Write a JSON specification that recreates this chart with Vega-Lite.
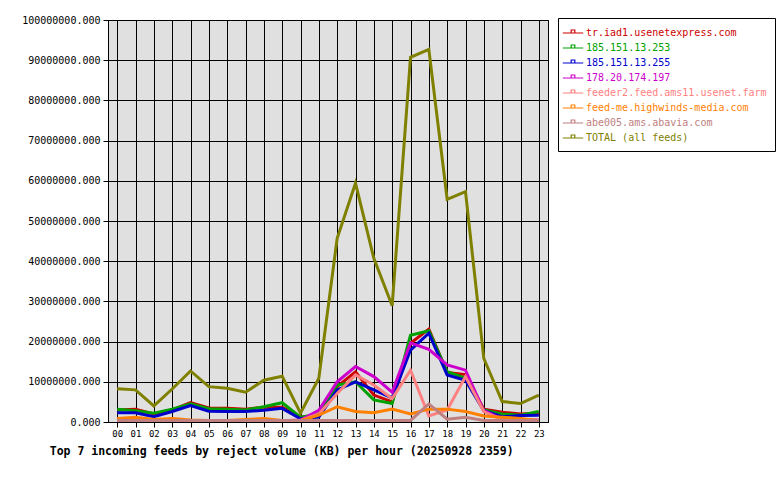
{
  "$schema": "https://vega.github.io/schema/vega-lite/v6.json",
  "width": 440,
  "height": 402,
  "autosize": {"type": "none"},
  "padding": {"left": 108, "top": 20, "right": 232, "bottom": 58},
  "background": "white",
  "config": {
    "view": {"fill": "#e0e0e0", "stroke": "black", "strokeWidth": 1},
    "font": "DejaVu Sans Mono"
  },
  "title": {
    "text": "Top 7 incoming feeds by reject volume (KB) per hour (20250928 2359)",
    "orient": "bottom",
    "anchor": "start",
    "font": "DejaVu Sans Mono",
    "fontWeight": "bold",
    "fontSize": 11.5,
    "color": "black",
    "dx": 28,
    "offset": 8
  },
  "datasets": {
    "feeds": [
      {"feed": "tr.iad1.usenetexpress.com", "hour": 0, "kb": 3000000},
      {"feed": "tr.iad1.usenetexpress.com", "hour": 1, "kb": 3200000},
      {"feed": "tr.iad1.usenetexpress.com", "hour": 2, "kb": 2000000},
      {"feed": "tr.iad1.usenetexpress.com", "hour": 3, "kb": 3000000},
      {"feed": "tr.iad1.usenetexpress.com", "hour": 4, "kb": 4800000},
      {"feed": "tr.iad1.usenetexpress.com", "hour": 5, "kb": 3500000},
      {"feed": "tr.iad1.usenetexpress.com", "hour": 6, "kb": 3400000},
      {"feed": "tr.iad1.usenetexpress.com", "hour": 7, "kb": 3200000},
      {"feed": "tr.iad1.usenetexpress.com", "hour": 8, "kb": 3700000},
      {"feed": "tr.iad1.usenetexpress.com", "hour": 9, "kb": 3700000},
      {"feed": "tr.iad1.usenetexpress.com", "hour": 10, "kb": 1200000},
      {"feed": "tr.iad1.usenetexpress.com", "hour": 11, "kb": 1700000},
      {"feed": "tr.iad1.usenetexpress.com", "hour": 12, "kb": 8800000},
      {"feed": "tr.iad1.usenetexpress.com", "hour": 13, "kb": 12500000},
      {"feed": "tr.iad1.usenetexpress.com", "hour": 14, "kb": 6700000},
      {"feed": "tr.iad1.usenetexpress.com", "hour": 15, "kb": 5000000},
      {"feed": "tr.iad1.usenetexpress.com", "hour": 16, "kb": 19600000},
      {"feed": "tr.iad1.usenetexpress.com", "hour": 17, "kb": 23100000},
      {"feed": "tr.iad1.usenetexpress.com", "hour": 18, "kb": 12300000},
      {"feed": "tr.iad1.usenetexpress.com", "hour": 19, "kb": 11800000},
      {"feed": "tr.iad1.usenetexpress.com", "hour": 20, "kb": 3200000},
      {"feed": "tr.iad1.usenetexpress.com", "hour": 21, "kb": 2400000},
      {"feed": "tr.iad1.usenetexpress.com", "hour": 22, "kb": 2000000},
      {"feed": "tr.iad1.usenetexpress.com", "hour": 23, "kb": 2200000},

      {"feed": "185.151.13.253", "hour": 0, "kb": 3200000},
      {"feed": "185.151.13.253", "hour": 1, "kb": 2800000},
      {"feed": "185.151.13.253", "hour": 2, "kb": 2200000},
      {"feed": "185.151.13.253", "hour": 3, "kb": 3200000},
      {"feed": "185.151.13.253", "hour": 4, "kb": 4500000},
      {"feed": "185.151.13.253", "hour": 5, "kb": 3300000},
      {"feed": "185.151.13.253", "hour": 6, "kb": 3200000},
      {"feed": "185.151.13.253", "hour": 7, "kb": 3000000},
      {"feed": "185.151.13.253", "hour": 8, "kb": 3800000},
      {"feed": "185.151.13.253", "hour": 9, "kb": 4800000},
      {"feed": "185.151.13.253", "hour": 10, "kb": 1200000},
      {"feed": "185.151.13.253", "hour": 11, "kb": 2000000},
      {"feed": "185.151.13.253", "hour": 12, "kb": 9200000},
      {"feed": "185.151.13.253", "hour": 13, "kb": 10000000},
      {"feed": "185.151.13.253", "hour": 14, "kb": 5500000},
      {"feed": "185.151.13.253", "hour": 15, "kb": 4600000},
      {"feed": "185.151.13.253", "hour": 16, "kb": 21600000},
      {"feed": "185.151.13.253", "hour": 17, "kb": 22700000},
      {"feed": "185.151.13.253", "hour": 18, "kb": 12500000},
      {"feed": "185.151.13.253", "hour": 19, "kb": 10900000},
      {"feed": "185.151.13.253", "hour": 20, "kb": 3000000},
      {"feed": "185.151.13.253", "hour": 21, "kb": 2000000},
      {"feed": "185.151.13.253", "hour": 22, "kb": 1700000},
      {"feed": "185.151.13.253", "hour": 23, "kb": 2600000},

      {"feed": "185.151.13.255", "hour": 0, "kb": 2300000},
      {"feed": "185.151.13.255", "hour": 1, "kb": 2300000},
      {"feed": "185.151.13.255", "hour": 2, "kb": 1300000},
      {"feed": "185.151.13.255", "hour": 3, "kb": 2600000},
      {"feed": "185.151.13.255", "hour": 4, "kb": 4100000},
      {"feed": "185.151.13.255", "hour": 5, "kb": 2700000},
      {"feed": "185.151.13.255", "hour": 6, "kb": 2600000},
      {"feed": "185.151.13.255", "hour": 7, "kb": 2600000},
      {"feed": "185.151.13.255", "hour": 8, "kb": 2900000},
      {"feed": "185.151.13.255", "hour": 9, "kb": 3400000},
      {"feed": "185.151.13.255", "hour": 10, "kb": 800000},
      {"feed": "185.151.13.255", "hour": 11, "kb": 1200000},
      {"feed": "185.151.13.255", "hour": 12, "kb": 8000000},
      {"feed": "185.151.13.255", "hour": 13, "kb": 10000000},
      {"feed": "185.151.13.255", "hour": 14, "kb": 8000000},
      {"feed": "185.151.13.255", "hour": 15, "kb": 6000000},
      {"feed": "185.151.13.255", "hour": 16, "kb": 17900000},
      {"feed": "185.151.13.255", "hour": 17, "kb": 22100000},
      {"feed": "185.151.13.255", "hour": 18, "kb": 11700000},
      {"feed": "185.151.13.255", "hour": 19, "kb": 10400000},
      {"feed": "185.151.13.255", "hour": 20, "kb": 2800000},
      {"feed": "185.151.13.255", "hour": 21, "kb": 1300000},
      {"feed": "185.151.13.255", "hour": 22, "kb": 1600000},
      {"feed": "185.151.13.255", "hour": 23, "kb": 1700000},

      {"feed": "178.20.174.197", "hour": 0, "kb": 300000},
      {"feed": "178.20.174.197", "hour": 1, "kb": 300000},
      {"feed": "178.20.174.197", "hour": 2, "kb": 300000},
      {"feed": "178.20.174.197", "hour": 3, "kb": 300000},
      {"feed": "178.20.174.197", "hour": 4, "kb": 300000},
      {"feed": "178.20.174.197", "hour": 5, "kb": 300000},
      {"feed": "178.20.174.197", "hour": 6, "kb": 300000},
      {"feed": "178.20.174.197", "hour": 7, "kb": 300000},
      {"feed": "178.20.174.197", "hour": 8, "kb": 300000},
      {"feed": "178.20.174.197", "hour": 9, "kb": 300000},
      {"feed": "178.20.174.197", "hour": 10, "kb": 500000},
      {"feed": "178.20.174.197", "hour": 11, "kb": 2900000},
      {"feed": "178.20.174.197", "hour": 12, "kb": 10000000},
      {"feed": "178.20.174.197", "hour": 13, "kb": 13800000},
      {"feed": "178.20.174.197", "hour": 14, "kb": 11300000},
      {"feed": "178.20.174.197", "hour": 15, "kb": 7400000},
      {"feed": "178.20.174.197", "hour": 16, "kb": 19700000},
      {"feed": "178.20.174.197", "hour": 17, "kb": 18100000},
      {"feed": "178.20.174.197", "hour": 18, "kb": 14200000},
      {"feed": "178.20.174.197", "hour": 19, "kb": 12900000},
      {"feed": "178.20.174.197", "hour": 20, "kb": 2800000},
      {"feed": "178.20.174.197", "hour": 21, "kb": 800000},
      {"feed": "178.20.174.197", "hour": 22, "kb": 500000},
      {"feed": "178.20.174.197", "hour": 23, "kb": 500000},

      {"feed": "feeder2.feed.ams11.usenet.farm", "hour": 0, "kb": 300000},
      {"feed": "feeder2.feed.ams11.usenet.farm", "hour": 1, "kb": 300000},
      {"feed": "feeder2.feed.ams11.usenet.farm", "hour": 2, "kb": 300000},
      {"feed": "feeder2.feed.ams11.usenet.farm", "hour": 3, "kb": 300000},
      {"feed": "feeder2.feed.ams11.usenet.farm", "hour": 4, "kb": 300000},
      {"feed": "feeder2.feed.ams11.usenet.farm", "hour": 5, "kb": 300000},
      {"feed": "feeder2.feed.ams11.usenet.farm", "hour": 6, "kb": 300000},
      {"feed": "feeder2.feed.ams11.usenet.farm", "hour": 7, "kb": 300000},
      {"feed": "feeder2.feed.ams11.usenet.farm", "hour": 8, "kb": 300000},
      {"feed": "feeder2.feed.ams11.usenet.farm", "hour": 9, "kb": 300000},
      {"feed": "feeder2.feed.ams11.usenet.farm", "hour": 10, "kb": 400000},
      {"feed": "feeder2.feed.ams11.usenet.farm", "hour": 11, "kb": 2000000},
      {"feed": "feeder2.feed.ams11.usenet.farm", "hour": 12, "kb": 7100000},
      {"feed": "feeder2.feed.ams11.usenet.farm", "hour": 13, "kb": 11700000},
      {"feed": "feeder2.feed.ams11.usenet.farm", "hour": 14, "kb": 9200000},
      {"feed": "feeder2.feed.ams11.usenet.farm", "hour": 15, "kb": 5800000},
      {"feed": "feeder2.feed.ams11.usenet.farm", "hour": 16, "kb": 12900000},
      {"feed": "feeder2.feed.ams11.usenet.farm", "hour": 17, "kb": 1500000},
      {"feed": "feeder2.feed.ams11.usenet.farm", "hour": 18, "kb": 3000000},
      {"feed": "feeder2.feed.ams11.usenet.farm", "hour": 19, "kb": 11300000},
      {"feed": "feeder2.feed.ams11.usenet.farm", "hour": 20, "kb": 2600000},
      {"feed": "feeder2.feed.ams11.usenet.farm", "hour": 21, "kb": 500000},
      {"feed": "feeder2.feed.ams11.usenet.farm", "hour": 22, "kb": 300000},
      {"feed": "feeder2.feed.ams11.usenet.farm", "hour": 23, "kb": 300000},

      {"feed": "feed-me.highwinds-media.com", "hour": 0, "kb": 900000},
      {"feed": "feed-me.highwinds-media.com", "hour": 1, "kb": 1200000},
      {"feed": "feed-me.highwinds-media.com", "hour": 2, "kb": 600000},
      {"feed": "feed-me.highwinds-media.com", "hour": 3, "kb": 900000},
      {"feed": "feed-me.highwinds-media.com", "hour": 4, "kb": 500000},
      {"feed": "feed-me.highwinds-media.com", "hour": 5, "kb": 400000},
      {"feed": "feed-me.highwinds-media.com", "hour": 6, "kb": 400000},
      {"feed": "feed-me.highwinds-media.com", "hour": 7, "kb": 600000},
      {"feed": "feed-me.highwinds-media.com", "hour": 8, "kb": 900000},
      {"feed": "feed-me.highwinds-media.com", "hour": 9, "kb": 400000},
      {"feed": "feed-me.highwinds-media.com", "hour": 10, "kb": 300000},
      {"feed": "feed-me.highwinds-media.com", "hour": 11, "kb": 1700000},
      {"feed": "feed-me.highwinds-media.com", "hour": 12, "kb": 3800000},
      {"feed": "feed-me.highwinds-media.com", "hour": 13, "kb": 2600000},
      {"feed": "feed-me.highwinds-media.com", "hour": 14, "kb": 2300000},
      {"feed": "feed-me.highwinds-media.com", "hour": 15, "kb": 3200000},
      {"feed": "feed-me.highwinds-media.com", "hour": 16, "kb": 2000000},
      {"feed": "feed-me.highwinds-media.com", "hour": 17, "kb": 3200000},
      {"feed": "feed-me.highwinds-media.com", "hour": 18, "kb": 3200000},
      {"feed": "feed-me.highwinds-media.com", "hour": 19, "kb": 2600000},
      {"feed": "feed-me.highwinds-media.com", "hour": 20, "kb": 1500000},
      {"feed": "feed-me.highwinds-media.com", "hour": 21, "kb": 1200000},
      {"feed": "feed-me.highwinds-media.com", "hour": 22, "kb": 900000},
      {"feed": "feed-me.highwinds-media.com", "hour": 23, "kb": 400000},

      {"feed": "abe005.ams.abavia.com", "hour": 0, "kb": 400000},
      {"feed": "abe005.ams.abavia.com", "hour": 1, "kb": 400000},
      {"feed": "abe005.ams.abavia.com", "hour": 2, "kb": 400000},
      {"feed": "abe005.ams.abavia.com", "hour": 3, "kb": 400000},
      {"feed": "abe005.ams.abavia.com", "hour": 4, "kb": 400000},
      {"feed": "abe005.ams.abavia.com", "hour": 5, "kb": 400000},
      {"feed": "abe005.ams.abavia.com", "hour": 6, "kb": 400000},
      {"feed": "abe005.ams.abavia.com", "hour": 7, "kb": 400000},
      {"feed": "abe005.ams.abavia.com", "hour": 8, "kb": 400000},
      {"feed": "abe005.ams.abavia.com", "hour": 9, "kb": 400000},
      {"feed": "abe005.ams.abavia.com", "hour": 10, "kb": 400000},
      {"feed": "abe005.ams.abavia.com", "hour": 11, "kb": 400000},
      {"feed": "abe005.ams.abavia.com", "hour": 12, "kb": 400000},
      {"feed": "abe005.ams.abavia.com", "hour": 13, "kb": 400000},
      {"feed": "abe005.ams.abavia.com", "hour": 14, "kb": 400000},
      {"feed": "abe005.ams.abavia.com", "hour": 15, "kb": 400000},
      {"feed": "abe005.ams.abavia.com", "hour": 16, "kb": 400000},
      {"feed": "abe005.ams.abavia.com", "hour": 17, "kb": 4500000},
      {"feed": "abe005.ams.abavia.com", "hour": 18, "kb": 700000},
      {"feed": "abe005.ams.abavia.com", "hour": 19, "kb": 1200000},
      {"feed": "abe005.ams.abavia.com", "hour": 20, "kb": 400000},
      {"feed": "abe005.ams.abavia.com", "hour": 21, "kb": 400000},
      {"feed": "abe005.ams.abavia.com", "hour": 22, "kb": 400000},
      {"feed": "abe005.ams.abavia.com", "hour": 23, "kb": 400000},

      {"feed": "TOTAL (all feeds)", "hour": 0, "kb": 8300000},
      {"feed": "TOTAL (all feeds)", "hour": 1, "kb": 8000000},
      {"feed": "TOTAL (all feeds)", "hour": 2, "kb": 4000000},
      {"feed": "TOTAL (all feeds)", "hour": 3, "kb": 8200000},
      {"feed": "TOTAL (all feeds)", "hour": 4, "kb": 12700000},
      {"feed": "TOTAL (all feeds)", "hour": 5, "kb": 8800000},
      {"feed": "TOTAL (all feeds)", "hour": 6, "kb": 8400000},
      {"feed": "TOTAL (all feeds)", "hour": 7, "kb": 7400000},
      {"feed": "TOTAL (all feeds)", "hour": 8, "kb": 10400000},
      {"feed": "TOTAL (all feeds)", "hour": 9, "kb": 11400000},
      {"feed": "TOTAL (all feeds)", "hour": 10, "kb": 2200000},
      {"feed": "TOTAL (all feeds)", "hour": 11, "kb": 10900000},
      {"feed": "TOTAL (all feeds)", "hour": 12, "kb": 45700000},
      {"feed": "TOTAL (all feeds)", "hour": 13, "kb": 59400000},
      {"feed": "TOTAL (all feeds)", "hour": 14, "kb": 40700000},
      {"feed": "TOTAL (all feeds)", "hour": 15, "kb": 28900000},
      {"feed": "TOTAL (all feeds)", "hour": 16, "kb": 90700000},
      {"feed": "TOTAL (all feeds)", "hour": 17, "kb": 92700000},
      {"feed": "TOTAL (all feeds)", "hour": 18, "kb": 55400000},
      {"feed": "TOTAL (all feeds)", "hour": 19, "kb": 57300000},
      {"feed": "TOTAL (all feeds)", "hour": 20, "kb": 15800000},
      {"feed": "TOTAL (all feeds)", "hour": 21, "kb": 5100000},
      {"feed": "TOTAL (all feeds)", "hour": 22, "kb": 4600000},
      {"feed": "TOTAL (all feeds)", "hour": 23, "kb": 6700000}
    ]
  },
  "data": {"name": "feeds"},
  "mark": {"type": "line", "strokeWidth": 3, "clip": true},
  "encoding": {
    "x": {
      "field": "hour",
      "type": "quantitative",
      "scale": {"domain": [-0.5, 23.5], "nice": false, "zero": false},
      "axis": {
        "title": null,
        "values": [0,1,2,3,4,5,6,7,8,9,10,11,12,13,14,15,16,17,18,19,20,21,22,23],
        "labelExpr": "datum.value < 10 ? '0' + datum.value : '' + datum.value",
        "grid": true,
        "gridColor": "black",
        "gridOpacity": 1,
        "gridWidth": 1,
        "domainColor": "black",
        "tickColor": "black",
        "tickSize": 5,
        "labelFont": "DejaVu Sans Mono",
        "labelFontSize": 9,
        "labelColor": "black",
        "labelPadding": 2,
        "labelFlush": false,
        "labelOverlap": false
      }
    },
    "y": {
      "field": "kb",
      "type": "quantitative",
      "scale": {"domain": [0, 100000000], "nice": false},
      "axis": {
        "title": null,
        "values": [0,10000000,20000000,30000000,40000000,50000000,60000000,70000000,80000000,90000000,100000000],
        "format": ".3f",
        "grid": true,
        "gridColor": "black",
        "gridOpacity": 1,
        "gridWidth": 1,
        "domainColor": "black",
        "tickColor": "black",
        "tickSize": 5,
        "labelFont": "DejaVu Sans Mono",
        "labelFontSize": 10,
        "labelColor": "black",
        "labelPadding": 3,
        "labelFlush": false,
        "labelOverlap": false
      }
    },
    "color": {
      "field": "feed",
      "type": "nominal",
      "sort": ["tr.iad1.usenetexpress.com","185.151.13.253","185.151.13.255","178.20.174.197","feeder2.feed.ams11.usenet.farm","feed-me.highwinds-media.com","abe005.ams.abavia.com","TOTAL (all feeds)"],
      "scale": {
        "domain": ["tr.iad1.usenetexpress.com","185.151.13.253","185.151.13.255","178.20.174.197","feeder2.feed.ams11.usenet.farm","feed-me.highwinds-media.com","abe005.ams.abavia.com","TOTAL (all feeds)"],
        "range": ["#cc0000","#00a000","#0000cc","#cc00cc","#ff8080","#ff8000","#c08080","#808000"]
      },
      "legend": {
        "title": null,
        "orient": "none",
        "legendX": 450,
        "legendY": -2,
        "fillColor": "white",
        "strokeColor": "black",
        "padding": 8,
        "labelFont": "DejaVu Sans Mono",
        "labelFontSize": 10,
        "labelLimit": 400,
        "labelOffset": 6,
        "rowPadding": 3,
        "symbolType": "M-1.7,0H1.7M-0.3,0V-0.5H0.3V0",
        "symbolSize": 144,
        "symbolStrokeWidth": 1.2,
        "symbolFillColor": "transparent",
        "encode": {"labels": {"update": {"fill": {"scale": "color", "field": "value"}}}}
      }
    }
  }
}
